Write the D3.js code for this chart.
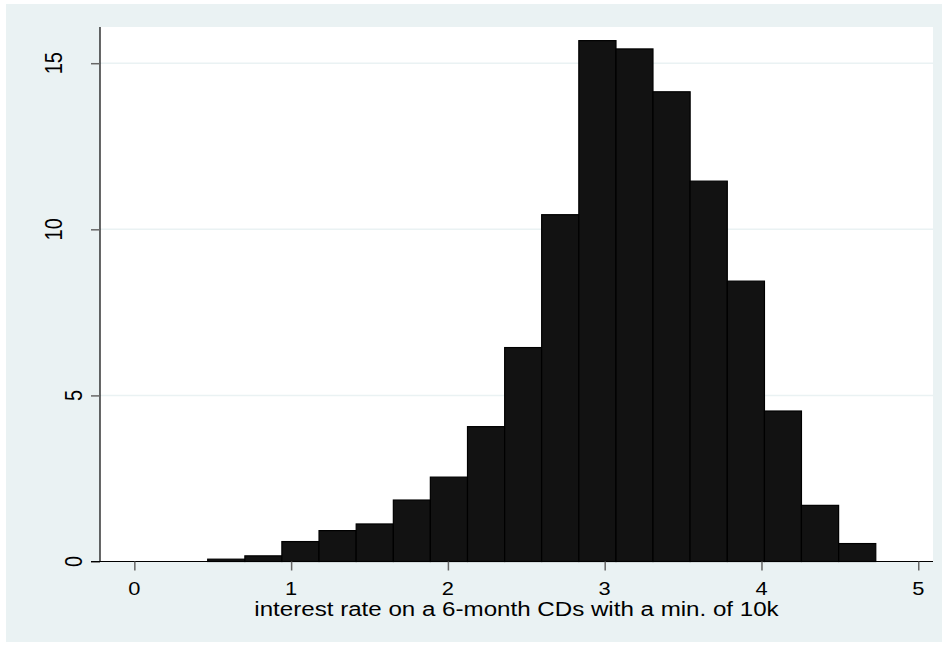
<!DOCTYPE html>
<html lang="en">
<head>
    <meta charset="UTF-8">
    <script src="https://d3js.org/d3.v7.min.js"></script>
    <title>Histogram - CD interest rate</title>
    <style>
        body {
            margin: 0;
            background: #fff;
            font-family: Arial, "Liberation Sans", sans-serif;
        }
    </style>
</head>
<body>
<div id="chart"></div>
<script>
    // bin edges (19 edges -> 18 bars) and density of each bar
    const binEdges = [0.468, 0.705, 0.941, 1.178, 1.415, 1.652, 1.888, 2.125, 2.362, 2.598,
                      2.835, 3.072, 3.308, 3.545, 3.782, 4.019, 4.255, 4.492, 4.729];
    const density = [0.07, 0.17, 0.60, 0.93, 1.13, 1.85, 2.54, 4.06, 6.44, 10.44,
                     15.68, 15.43, 14.14, 11.45, 8.44, 4.53, 1.69, 0.54];
    const xTicks = [0, 1, 2, 3, 4, 5];
    const yTicks = [0, 5, 10, 15];
    const xTitle = "interest rate on a 6-month CDs with a min. of 10k";

    const W = 948, H = 648;
    const plot = {left: 100, right: 933, top: 27, bottom: 561.5};
    const stretch = 1.15; // the original export is a bit wider than tall

    const svg = d3.select("#chart").append("svg")
        .attr("width", W)
        .attr("height", H);

    // outer (graph region) background
    svg.append("rect")
        .attr("x", 6).attr("y", 4)
        .attr("width", 936).attr("height", 638)
        .attr("fill", "#eaf2f3");

    // plot region
    svg.append("rect")
        .attr("x", plot.left).attr("y", plot.top)
        .attr("width", plot.right - plot.left)
        .attr("height", plot.bottom - plot.top)
        .attr("fill", "#fff");

    const x = d3.scaleLinear().domain([-0.219, 5.094]).range([plot.left, plot.right]);
    const y = d3.scaleLinear().domain([0, 16.09]).range([plot.bottom, plot.top]);

    // gridlines
    svg.append("g")
        .selectAll("line")
        .data(yTicks.filter(d => d > 0))
        .enter().append("line")
        .attr("x1", plot.left).attr("x2", plot.right)
        .attr("y1", d => y(d)).attr("y2", d => y(d))
        .attr("stroke", "#eaf2f3")
        .attr("stroke-width", 1.5);

    // bars
    const bars = density.map((v, i) => ({x0: binEdges[i], x1: binEdges[i + 1], v: v}));
    svg.append("g")
        .selectAll("rect")
        .data(bars)
        .enter().append("rect")
        .attr("x", d => x(d.x0))
        .attr("width", d => x(d.x1) - x(d.x0))
        .attr("y", d => y(d.v))
        .attr("height", d => y(0) - y(d.v))
        .attr("fill", "#121212")
        .attr("stroke", "#000")
        .attr("stroke-width", 1.2);

    // y axis
    const yAxis = svg.append("g")
        .attr("transform", `translate(${plot.left},0)`)
        .call(d3.axisLeft(y).tickValues(yTicks).tickSize(9).tickFormat(""));
    yAxis.select(".domain").attr("stroke", "#000").attr("stroke-width", 1.2)
        .attr("d", `M0,${plot.top}V${plot.bottom}`);
    yAxis.selectAll(".tick line").attr("stroke", "#666").attr("stroke-width", 1.5);

    // rotated y tick labels (two digit labels sit further out, like Stata)
    svg.append("g")
        .selectAll("text")
        .data(yTicks)
        .enter().append("text")
        .attr("transform", d => `translate(${String(d).length > 1 ? 62 : 82},${y(d)}) scale(${stretch},1) rotate(-90)`)
        .attr("text-anchor", "middle")
        .attr("font-size", 20)
        .attr("fill", "#000")
        .text(d => d);

    // x axis
    const xAxis = svg.append("g")
        .attr("transform", `translate(0,${plot.bottom})`)
        .call(d3.axisBottom(x).tickValues(xTicks).tickSize(9).tickFormat(""));
    xAxis.select(".domain").attr("stroke", "#000").attr("stroke-width", 1.2)
        .attr("d", `M${plot.left - 9},0H${plot.right}`);
    xAxis.selectAll(".tick line").attr("stroke", "#666").attr("stroke-width", 1.5);

    svg.append("g")
        .selectAll("text")
        .data(xTicks)
        .enter().append("text")
        .attr("transform", d => `translate(${x(d)},595) scale(${stretch},1)`)
        .attr("text-anchor", "middle")
        .attr("font-size", 19)
        .attr("fill", "#000")
        .text(d => d);

    // x axis title
    svg.append("text")
        .attr("transform", `translate(${(plot.left + plot.right) / 2},616) scale(${stretch},1)`)
        .attr("text-anchor", "middle")
        .attr("font-size", 21)
        .attr("fill", "#000")
        .text(xTitle);
</script>
</body>
</html>
